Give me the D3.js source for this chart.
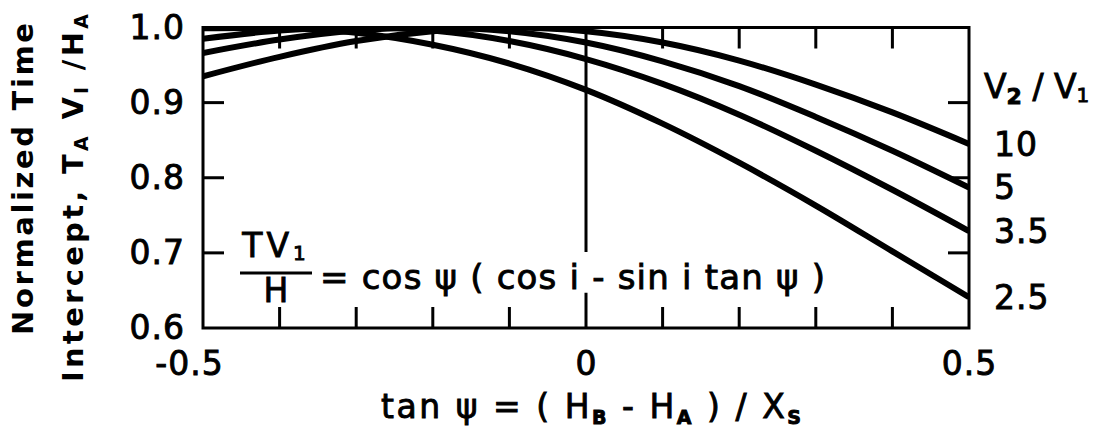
<!DOCTYPE html>
<html>
<head>
<meta charset="utf-8">
<script src="https://cdn.jsdelivr.net/npm/d3@7/dist/d3.min.js"></script>
<style>
  html, body { margin: 0; padding: 0; background: #fff; }
  svg { display: block; }
  text { font-family: "DejaVu Sans", "Liberation Sans", sans-serif; fill: #000; }
</style>
</head>
<body>
<svg id="chart" width="1105" height="433"></svg>
<script>
// tan psi sample points and the normalized intercept time for each velocity ratio V2/V1
const tanPsi = [-0.5, -0.4, -0.3, -0.2, -0.1, 0, 0.1, 0.2, 0.3, 0.4, 0.5];
const ratio2p5 = [0.999, 0.999, 0.993, 0.977, 0.952, 0.917, 0.872, 0.820, 0.763, 0.702, 0.641];
const ratio3p5 = [0.985, 0.996, 1.000, 0.996, 0.982, 0.958, 0.925, 0.884, 0.836, 0.784, 0.729];
const ratio5 = [0.966, 0.984, 0.996, 1.000, 0.995, 0.980, 0.955, 0.922, 0.881, 0.836, 0.787];
const ratio10 = [0.935, 0.961, 0.982, 0.995, 1.000, 0.995, 0.980, 0.956, 0.924, 0.887, 0.845];
const ratioLabels = ["2.5", "3.5", "5", "10"];

// labelled axis values and unlabelled tick values
const xLabelValues = [-0.5, 0, 0.5];
const xTickLabels = ["-0.5", "0", "0.5"];
const yLabelValues = [0.6, 0.7, 0.8, 0.9, 1.0];
const yTickLabels = ["0.6", "0.7", "0.8", "0.9", "1.0"];
const xMinorTicks = [-0.4, -0.3, -0.2, -0.1, 0.1, 0.2, 0.3, 0.4];
const yMinorTicks = [0.7, 0.8, 0.9];

const series = [ratio2p5, ratio3p5, ratio5, ratio10];

const svg = d3.select("#chart");
const plotLeft = 203, plotRight = 969, plotTop = 27.5, plotBottom = 328;
const tickLen = 21;

const x = d3.scaleLinear().domain([-0.5, 0.5]).range([plotLeft, plotRight]);
const y = d3.scaleLinear().domain([0.6, 1.0]).range([plotBottom, plotTop]);

svg.append("defs").append("clipPath").attr("id", "plot")
  .append("rect").attr("x", plotLeft).attr("y", plotTop)
  .attr("width", plotRight - plotLeft).attr("height", plotBottom - plotTop);

// curves
const curve = d3.line()
  .x((d, i) => x(tanPsi[i]))
  .y(d => y(d))
  .curve(d3.curveCatmullRom.alpha(0.5));

svg.append("g").attr("clip-path", "url(#plot)")
  .selectAll("path").data(series).join("path")
  .attr("d", curve)
  .attr("fill", "none")
  .attr("stroke", "#000")
  .attr("stroke-width", 6)
  .attr("stroke-linejoin", "round");

// frame and the broken vertical line at tan psi = 0
const frame = d3.path();
frame.rect(plotLeft, plotTop, plotRight - plotLeft, plotBottom - plotTop);
frame.moveTo(x(0), y(1.0)); frame.lineTo(x(0), y(0.701));
frame.moveTo(x(0), y(0.647)); frame.lineTo(x(0), y(0.6));
svg.append("path")
  .attr("d", frame.toString())
  .attr("fill", "none").attr("stroke", "#000").attr("stroke-width", 3);

// inward ticks on all four sides, as thin filled bars
const tickBars = svg.append("g").attr("fill", "#000");
tickBars.selectAll("rect.xb").data(xMinorTicks).join("rect").attr("class", "xb")
  .attr("x", d => x(d) - 1.5).attr("y", plotBottom - tickLen)
  .attr("width", 3).attr("height", tickLen);
tickBars.selectAll("rect.xt").data(xMinorTicks).join("rect").attr("class", "xt")
  .attr("x", d => x(d) - 1.5).attr("y", plotTop)
  .attr("width", 3).attr("height", tickLen);
tickBars.selectAll("rect.yl").data(yMinorTicks).join("rect").attr("class", "yl")
  .attr("x", plotLeft).attr("y", d => y(d) - 1.5)
  .attr("width", tickLen).attr("height", 3);
tickBars.selectAll("rect.yr").data(yMinorTicks).join("rect").attr("class", "yr")
  .attr("x", plotRight - tickLen).attr("y", d => y(d) - 1.5)
  .attr("width", tickLen).attr("height", 3);

// tick labels
const yAxisLabels = svg.append("g").attr("transform", `translate(${plotLeft},0)`)
  .call(d3.axisLeft(y).tickValues(yLabelValues).tickSize(0).tickPadding(18)
    .tickFormat((d, i) => yTickLabels[i]));
yAxisLabels.select(".domain").remove();
yAxisLabels.selectAll("text")
  .attr("font-size", 33).attr("font-family", "DejaVu Sans")
  .attr("stroke", "#000").attr("stroke-width", 0.9)
  .attr("letter-spacing", 1);

const xAxisLabels = svg.append("g").attr("transform", `translate(0,${plotBottom})`)
  .call(d3.axisBottom(x).tickValues(xLabelValues).tickSize(0).tickPadding(24)
    .tickFormat((d, i) => xTickLabels[i]));
xAxisLabels.select(".domain").remove();
xAxisLabels.selectAll("text")
  .attr("font-size", 33).attr("font-family", "DejaVu Sans")
  .attr("stroke", "#000").attr("stroke-width", 0.9)
  .attr("letter-spacing", 1)
  .attr("dx", (d, i) => i === 0 ? -14 : 0);

// curve labels at the right edge
svg.append("g").selectAll("text").data(series).join("text")
  .attr("x", 994)
  .attr("y", d => y(d[d.length - 1]))
  .attr("dy", "0.36em")
  .attr("font-size", 33)
  .attr("stroke", "#000").attr("stroke-width", 0.9)
  .attr("letter-spacing", 1)
  .text((d, i) => ratioLabels[i]);

// V2 / V1 heading
const head = svg.append("text").attr("x", 984).attr("y", 98)
  .attr("font-size", 33).attr("stroke", "#000").attr("stroke-width", 0.9);
head.append("tspan").text("V");
head.append("tspan").attr("font-size", 22).attr("dy", 6).attr("font-weight", "bold").text("2");
head.append("tspan").attr("dy", -6).text(" / V");
head.append("tspan").attr("font-size", 20).attr("dy", 4).text("1");

// y axis title (two lines)
svg.append("text")
  .attr("transform", "translate(33,179) rotate(-90)")
  .attr("text-anchor", "middle")
  .attr("font-size", 29).attr("font-weight", "bold")
  .attr("textLength", 312).attr("lengthAdjust", "spacing")
  .text("Normalized Time");

const yt2 = svg.append("text")
  .attr("transform", "translate(83,198) rotate(-90)")
  .attr("text-anchor", "middle")
  .attr("font-size", 29).attr("font-weight", "bold")
  .attr("textLength", 368).attr("lengthAdjust", "spacing");
yt2.append("tspan").text("Intercept, T");
yt2.append("tspan").attr("font-size", 19).attr("dy", 5).text("A");
yt2.append("tspan").attr("dy", -5).text(" V");
yt2.append("tspan").attr("font-size", 19).attr("dy", 5).text("I");
yt2.append("tspan").attr("dy", -5).text(" /H");
yt2.append("tspan").attr("font-size", 19).attr("dy", 5).text("A");

// x axis title
const xt = svg.append("text")
  .attr("x", 381).attr("y", 418)
  .attr("font-size", 33)
  .attr("stroke", "#000").attr("stroke-width", 0.9)
  .attr("textLength", 420).attr("lengthAdjust", "spacing");
xt.append("tspan").text("tan ψ = ( H");
xt.append("tspan").attr("font-size", 19).attr("font-weight", "bold").attr("dy", 6).text("B");
xt.append("tspan").attr("dy", -6).text(" - H");
xt.append("tspan").attr("font-size", 19).attr("font-weight", "bold").attr("dy", 6).text("A");
xt.append("tspan").attr("dy", -6).text(" ) / X");
xt.append("tspan").attr("font-size", 19).attr("font-weight", "bold").attr("dy", 6).text("S");

// formula inside the plot
const fx = 276;
const num = svg.append("text").attr("x", fx).attr("y", 257)
  .attr("text-anchor", "middle").attr("font-size", 33)
  .attr("stroke", "#000").attr("stroke-width", 0.9).attr("letter-spacing", 4);
num.append("tspan").text("TV");
num.append("tspan").attr("font-size", 20).attr("dy", 3).text("1");
svg.append("line").attr("x1", 240).attr("x2", 312).attr("y1", 273).attr("y2", 273)
  .attr("stroke", "#000").attr("stroke-width", 3);
svg.append("text").attr("x", fx).attr("y", 302)
  .attr("text-anchor", "middle").attr("font-size", 33)
  .attr("stroke", "#000").attr("stroke-width", 0.9)
  .text("H");
svg.append("text").attr("x", 320).attr("y", 289)
  .attr("font-size", 34)
  .attr("stroke", "#000").attr("stroke-width", 0.9)
  .attr("textLength", 505).attr("lengthAdjust", "spacing")
  .text("= cos ψ ( cos i - sin i  tan ψ )");
</script>
</body>
</html>
